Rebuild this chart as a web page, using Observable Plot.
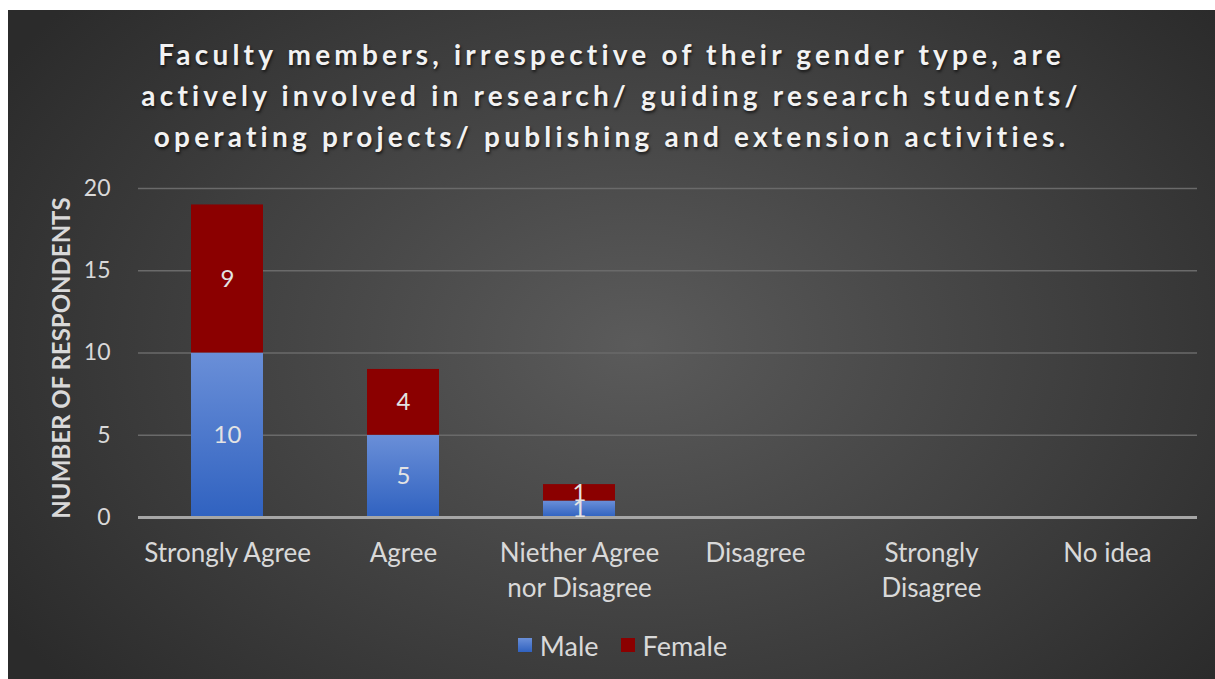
<!DOCTYPE html>
<html>
<head>
<meta charset="utf-8">
<script src="https://cdn.jsdelivr.net/npm/d3@7"></script>
<script src="https://cdn.jsdelivr.net/npm/@observablehq/plot@0.6"></script>
<style>
  html, body { margin: 0; padding: 0; background: #ffffff; }
  #panel {
    position: absolute; left: 8px; top: 10px; width: 1207px; height: 669px; overflow: hidden;
    background: radial-gradient(ellipse 62% 78% at 52% 50%, #5b5b5b 0%, #4a4a4a 35%, #2b2b2b 100%);
    font-family: Lato, "Open Sans", sans-serif;
  }
  #title {
    position: absolute; left: 0; top: 24px; width: 1207px; text-align: center;
    color: #f2f2f2; font-weight: 700; font-size: 28px; line-height: 41px; letter-spacing: 4.2px;
    text-shadow: 1px 2px 3px rgba(0,0,0,0.65);
  }
  #chart { position: absolute; left: 0; top: 0; }
  #legend {
    position: absolute; left: 11px; top: 615px; width: 1207px; text-align: center;
    color: #d9d9d9; font-size: 27px;
  }
  #legend span.item { display: inline-flex; align-items: center; margin: 0 11px; }
  #legend span.sw { display: inline-block; width: 14px; height: 14px; margin-right: 8px; }
</style>
</head>
<body>
<div id="panel">
  <div id="chart"></div>
  <div id="title"></div>
  <div id="legend"></div>
</div>
<script>
const titleLines = [
  "Faculty members, irrespective of their gender type, are",
  "actively involved in research/ guiding research students/",
  "operating projects/ publishing and extension activities."
];
const categories = ["Strongly Agree", "Agree", "Niether Agree nor Disagree", "Disagree", "Strongly Disagree", "No idea"];
const categoryLabels = ["Strongly Agree", "Agree", "Niether Agree\nnor Disagree", "Disagree", "Strongly\nDisagree", "No idea"];
const series = ["Male", "Female"];
const maleValues = [10, 5, 1, 0, 0, 0];
const femaleValues = [9, 4, 1, 0, 0, 0];
const yTicks = [0, 5, 10, 15, 20];
const yLabel = "NUMBER OF RESPONDENTS";

const seriesColors = ["url(#maleGrad)", "#8b0000"];
const legendColors = ["#4a78cc", "#8b0000"];

const rows = [];
categories.forEach((c, i) => {
  rows.push({category: c, gender: "Male", value: maleValues[i]});
  rows.push({category: c, gender: "Female", value: femaleValues[i]});
});
const labelOf = new Map(categories.map((c, i) => [c, categoryLabels[i]]));

document.getElementById("title").innerHTML = titleLines.join("<br>");

const plot = Plot.plot({
  width: 1207,
  height: 669,
  marginLeft: 130,
  marginRight: 18,
  marginTop: 178,
  marginBottom: 162,
  style: {background: "transparent", fontFamily: "Lato, 'Open Sans', sans-serif", overflow: "visible"},
  x: {domain: categories, paddingInner: 0.59, paddingOuter: 0.295, label: null},
  y: {domain: [0, 20], label: null},
  color: {domain: series, range: seriesColors, type: "ordinal"},
  marks: [
    Plot.gridY(yTicks, {stroke: "#6a6a6a", strokeOpacity: 1, strokeWidth: 1.5}),
    Plot.barY(rows, {x: "category", y: "value", fill: "gender", order: series, filter: d => d.value > 0, style: "filter: drop-shadow(2px 2px 3px rgba(0,0,0,0.45))"}),
    Plot.ruleY([0], {stroke: "#a6a6a6", strokeWidth: 3}),
    Plot.text(rows, Plot.stackY({x: "category", y: "value", z: "gender", order: series, text: d => d.value > 0 ? String(d.value) : "", fill: "#e3e3e3", fontSize: 24})),
    Plot.axisY(yTicks, {tickSize: 0, tickPadding: 28, fontSize: 23, fill: "#d9d9d9", label: null}),
    Plot.axisX({tickSize: 0, tickPadding: 20, fontSize: 26, fill: "#d9d9d9", lineHeight: 1.33, tickFormat: d => labelOf.get(d), label: null}),
    Plot.text([yLabel], {frameAnchor: "left", textAnchor: "middle", dx: -76, dy: 5, rotate: -90, fontSize: 24, fontWeight: 700, fill: "#d9d9d9", text: d => d})
  ]
});

const ns = "http://www.w3.org/2000/svg";
const defs = document.createElementNS(ns, "defs");
defs.innerHTML = '<linearGradient id="maleGrad" x1="0" y1="0" x2="0" y2="1"><stop offset="0" stop-color="#6a8fd8"/><stop offset="1" stop-color="#3062c0"/></linearGradient>';
plot.insertBefore(defs, plot.firstChild);
document.getElementById("chart").appendChild(plot);

const legend = document.getElementById("legend");
series.forEach((s, i) => {
  const item = document.createElement("span");
  item.className = "item";
  const sw = document.createElement("span");
  sw.className = "sw";
  sw.style.background = i === 0 ? "linear-gradient(#6a8fd8, #3062c0)" : legendColors[i];
  item.appendChild(sw);
  item.appendChild(document.createTextNode(s));
  legend.appendChild(item);
});
</script>
</body>
</html>
